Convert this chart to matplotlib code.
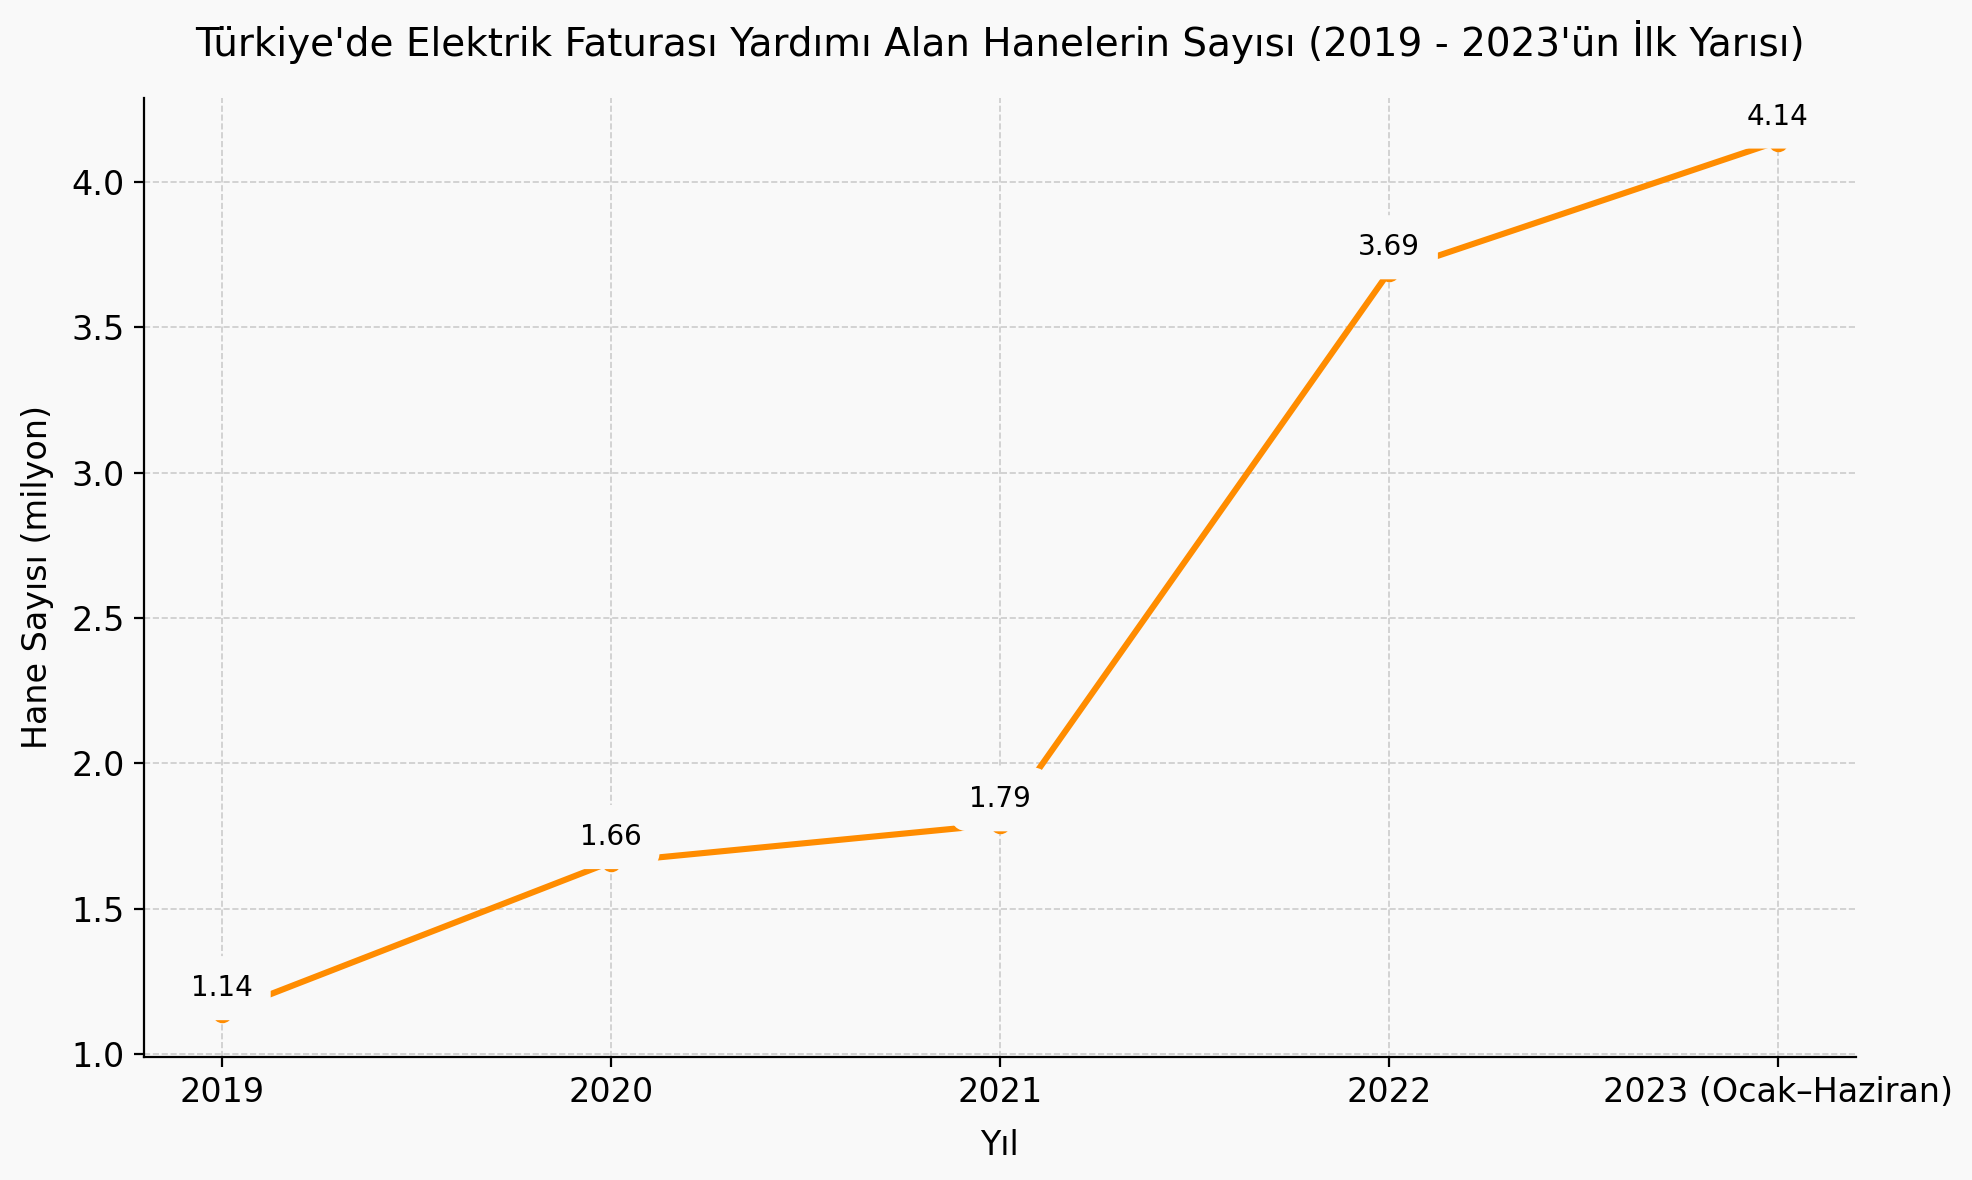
import matplotlib
matplotlib.use("Agg")
import matplotlib.pyplot as plt

years = ["2019", "2020", "2021", "2022", "2023 (Ocak–Haziran)"]
households = [1.14, 1.66, 1.79, 3.69, 4.14]

bg = "#f9f9f9"
fig = plt.figure(figsize=(9.86, 5.9), dpi=200, facecolor=bg)
ax = fig.add_axes([0.073, 0.1045, 0.868, 0.8125])
ax.set_facecolor(bg)

x = list(range(len(years)))
ax.plot(x, households, color="#FF8C00", linewidth=2.2, marker="o", markersize=6, zorder=2)
for xi, v in zip(x, households):
    ax.annotate(f"{v:.2f}", (xi, v), xytext=(0, 9), textcoords="offset points",
                ha="center", va="center", fontsize=10, zorder=3,
                bbox=dict(boxstyle="round,pad=0.65", fc=bg, ec="none"))

ax.set_xticks(x)
ax.set_xticklabels(years, fontsize=12)
ax.tick_params(axis="y", labelsize=12)
ax.set_yticks([1.0, 1.5, 2.0, 2.5, 3.0, 3.5, 4.0])
ax.grid(True, linestyle="--", color="#cccccc", linewidth=0.6)
ax.set_axisbelow(True)
for s in ["top", "right"]:
    ax.spines[s].set_visible(False)
ax.set_xlabel("Yıl", fontsize=12, labelpad=7)
ax.set_ylabel("Hane Sayısı (milyon)", fontsize=12, labelpad=6)
ax.set_title("Türkiye'de Elektrik Faturası Yardımı Alan Hanelerin Sayısı (2019 - 2023'ün İlk Yarısı)",
             fontsize=14, pad=15)

fig.savefig("out.png", dpi=200, facecolor=bg)
